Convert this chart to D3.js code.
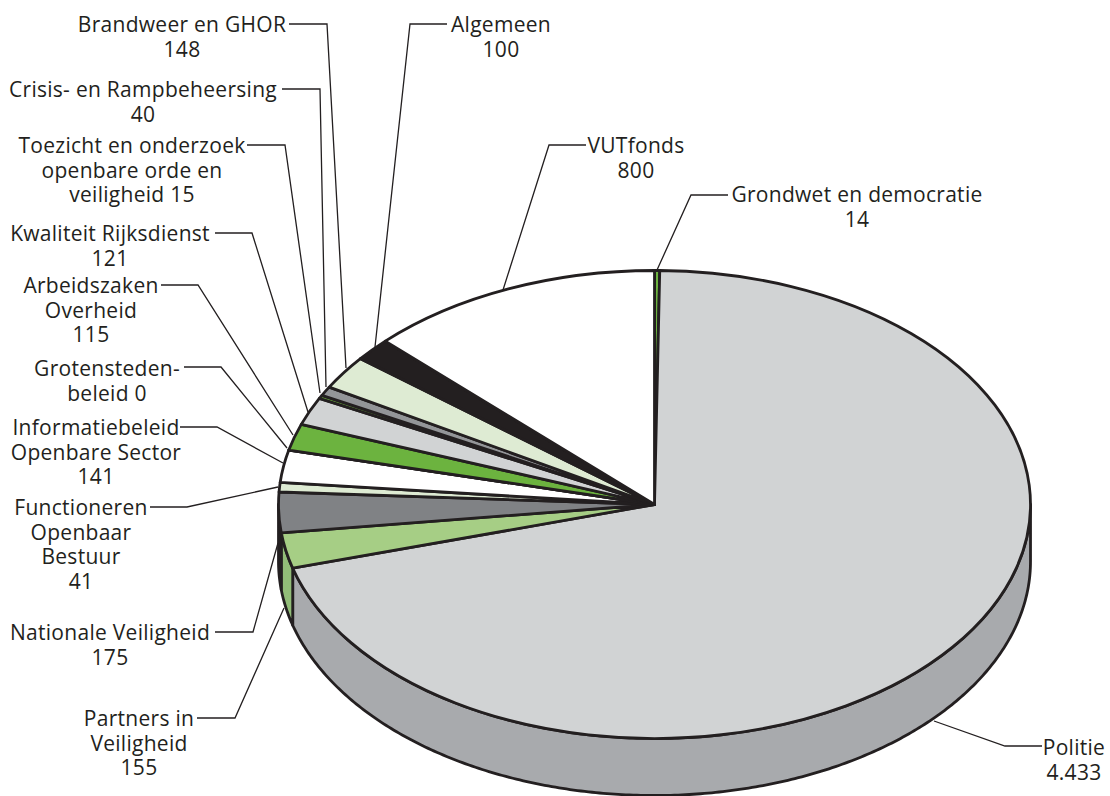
<!DOCTYPE html>
<html>
<head>
<meta charset="UTF-8">
<title>Begroting</title>
<style>
  body { margin: 0; background: #fff; }
  svg { display: block; }
  text { font-family: "Open Sans", sans-serif; font-size: 21px; letter-spacing: 0.28px; fill: #231f20; text-anchor: middle; }
  .leader { fill: none; stroke: #231f20; stroke-width: 1.3; }
  .slice, .wall { stroke: #231f20; stroke-width: 2.8; stroke-linejoin: round; vector-effect: non-scaling-stroke; }
</style>
</head>
<body>
<script src="https://d3js.org/d3.v7.min.js"></script>
<script>
// clockwise from 12 o'clock
var categories = ["Grondwet en democratie", "Politie", "Partners in Veiligheid", "Nationale Veiligheid",
  "Functioneren Openbaar Bestuur", "Informatiebeleid Openbare Sector", "Grotenstedenbeleid", "Arbeidszaken Overheid",
  "Kwaliteit Rijksdienst", "Toezicht en onderzoek openbare orde en veiligheid", "Crisis- en Rampbeheersing",
  "Brandweer en GHOR", "Algemeen", "VUTfonds"];
var values = [14, 4433, 155, 175, 41, 141, 0, 115, 121, 15, 40, 148, 100, 800];
var topColors = ["#6cb33f", "#d1d3d4", "#a6ce85", "#808285", "#deebd3", "#ffffff", "#ffffff", "#6cb33f",
  "#d1d3d4", "#6cb33f", "#939598", "#deebd3", "#231f20", "#ffffff"];
var sideColors = ["#58962f", "#a8aaad", "#92bd78", "#3a3a3c", "#b5c4a8", "#cccccc", "#cccccc", "#58962f",
  "#a8aaad", "#58962f", "#6d6e71", "#b5c4a8", "#111111", "#cccccc"];
var labelLines = [
  ["Grondwet en democratie", "14"], ["Politie", "4.433"], ["Partners in", "Veiligheid", "155"],
  ["Nationale Veiligheid", "175"], ["Functioneren", "Openbaar", "Bestuur", "41"],
  ["Informatiebeleid", "Openbare Sector", "141"], ["Grotensteden-", "beleid 0"],
  ["Arbeidszaken", "Overheid", "115"], ["Kwaliteit Rijksdienst", "121"],
  ["Toezicht en onderzoek", "openbare orde en", "veiligheid 15"], ["Crisis- en Rampbeheersing", "40"],
  ["Brandweer en GHOR", "148"], ["Algemeen", "100"], ["VUTfonds", "800"]];

// label placement: centre x, first baseline y, leader polyline
var labelX = [857, 1074, 139, 110, 81, 96, 107, 91, 110, 132, 143, 182, 501, 636];
var labelY = [202, 755, 726, 640, 515, 435, 376, 293, 241, 153, 97, 32, 32, 153];
var leaders = [
  [[728,195],[691,195],[657,270]],
  [[1042,746],[1005,746],[934,721]],
  [[197,718],[235,718],[284,608]],
  [[215,632],[253,632],[278,543]],
  [[150,507],[187,507],[278,487]],
  [[180,427],[217,427],[283,463]],
  [[184,367],[221,367],[287,448]],
  [[161,285],[198,285],[293,435]],
  [[215,233],[252,233],[308,412]],
  [[247,145],[285,145],[320,393]],
  [[282,89],[320,89],[326,387]],
  [[289,24],[327,24],[346,368]],
  [[447,24],[410,24],[375,347]],
  [[586,145],[549,145],[503,290]]];

var width = 1110, height = 796;
var cx = 654.5, cy = 504.5, rx = 376, ry = 234, depth = 57;

var svg = d3.select("body").append("svg").attr("width", width).attr("height", height);

var pie = d3.pie().sort(null).value(function(d) { return d; })
  .startAngle(0).endAngle(2 * Math.PI);
var arcs = pie(values);

function rim(a, off) {
  return [cx + rx * Math.sin(a), cy - ry * Math.cos(a) + off];
}

// side wall: only the part of each slice on the near half of the ellipse
var line = d3.line();
var walls = svg.append("g");
arcs.forEach(function(d, i) {
  var a0 = Math.max(d.startAngle, Math.PI / 2), a1 = Math.min(d.endAngle, 3 * Math.PI / 2);
  if (a1 <= a0) return;
  var n = Math.ceil((a1 - a0) / 0.01);
  var angle = d3.scaleLinear().domain([0, n]).range([a0, a1]);
  var front = d3.range(n + 1).map(function(k) { return rim(angle(k), 0); });
  var back = d3.range(n, -1, -1).map(function(k) { return rim(angle(k), depth); });
  walls.append("path").attr("class", "wall")
    .attr("fill", sideColors[i])
    .attr("d", line(front.concat(back)) + "Z");
});

// top face: circular arcs squashed into the ellipse
var arc = d3.arc().innerRadius(0).outerRadius(rx);
svg.append("g")
  .attr("transform", "translate(" + cx + "," + cy + ") scale(1," + (ry / rx) + ")")
  .selectAll("path")
  .data(arcs)
  .enter()
  .append("path")
  .attr("class", "slice")
  .attr("d", arc)
  .attr("fill", function(d, i) { return topColors[i]; });

svg.append("g").selectAll("path")
  .data(leaders)
  .enter()
  .append("path")
  .attr("class", "leader")
  .attr("d", line);

var lineHeight = 24.7;
var labels = svg.append("g").selectAll("text")
  .data(categories)
  .enter()
  .append("text")
  .attr("y", function(d, i) { return labelY[i]; });
labels.each(function(d, i) {
  d3.select(this).selectAll("tspan")
    .data(labelLines[i])
    .enter()
    .append("tspan")
    .attr("x", labelX[i])
    .attr("y", function(t, k) { return labelY[i] + k * lineHeight; })
    .text(function(t) { return t; });
});
</script>
</body>
</html>
